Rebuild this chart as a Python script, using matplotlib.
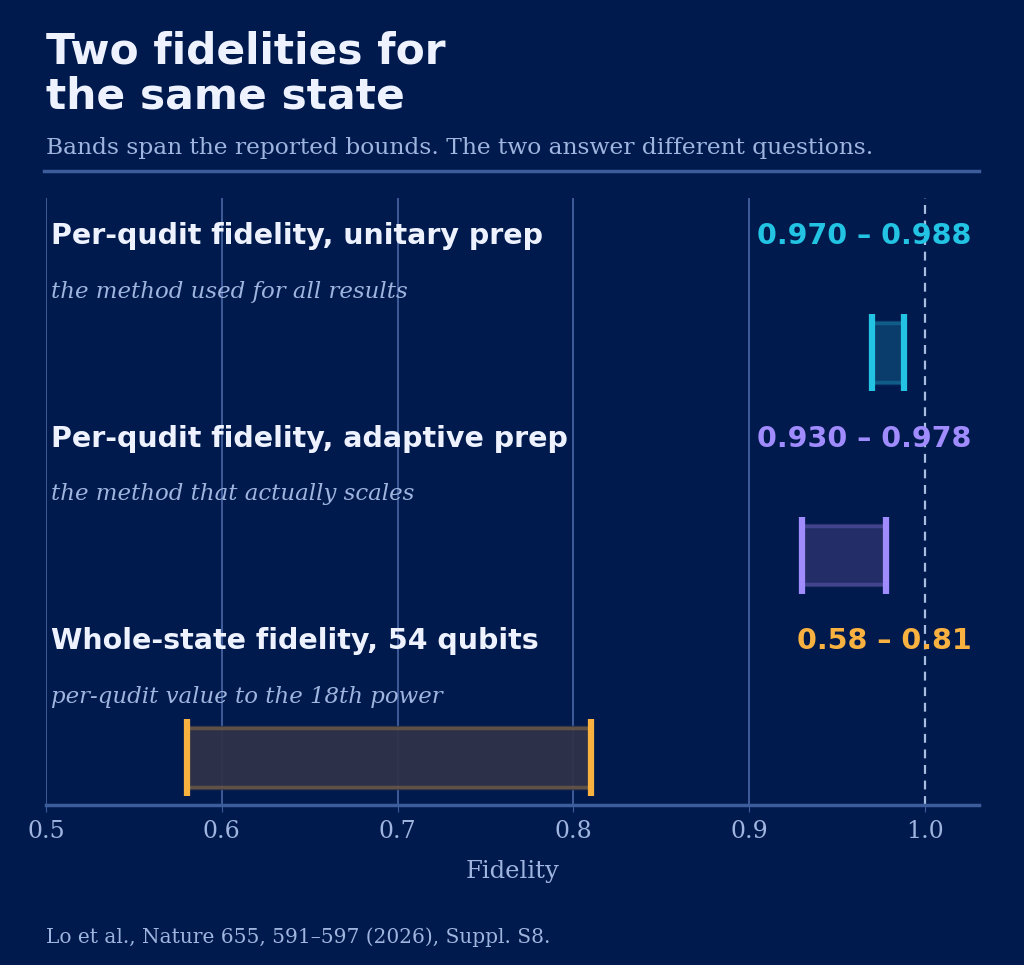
import matplotlib
matplotlib.use("Agg")
from matplotlib import pyplot as plt

titles = ["Per-qudit fidelity, unitary prep", "Per-qudit fidelity, adaptive prep", "Whole-state fidelity, 54 qubits"]
notes = ["the method used for all results", "the method that actually scales", "per-qudit value to the 18th power"]
lows = [0.970, 0.930, 0.58]
highs = [0.988, 0.978, 0.81]
range_labels = ["0.970 \u2013 0.988", "0.930 \u2013 0.978", "0.58 \u2013 0.81"]
colors = ["#22c3e3", "#a08cff", "#f9b13f"]
fills = ["#0b3f6e", "#262f6a", "#2f3349"]
ticks = [0.5, 0.6, 0.7, 0.8, 0.9, 1.0]

bg = "#001a4d"
fig = plt.figure(figsize=(10.24, 9.65), dpi=100, facecolor=bg)
ax = fig.add_axes([46 / 1024, 1 - 805 / 965, (979 - 46) / 1024, 607 / 965])
ax.set_facecolor(bg)
ax.set_xlim(0.5, 0.5 + 933 / 1758)
ax.set_ylim(3, 0)

for t in ticks:
    if t == 1.0:
        ax.axvline(t, color="#a9bde0", lw=1.6, ls=(0, (4, 3)), zorder=1)
    else:
        ax.axvline(t, color="#4a68a8", lw=1.2, zorder=1)

for i in range(3):
    yc = i + 0.765
    h = 0.19
    hf = 0.155
    ax.fill_between([lows[i], highs[i]], yc - hf, yc + hf, color=fills[i], alpha=0.95, zorder=2)
    ax.plot([lows[i], highs[i]], [yc - hf + 0.01] * 2, color=colors[i], alpha=0.25, lw=2.5, zorder=3)
    ax.plot([lows[i], highs[i]], [yc + hf - 0.01] * 2, color=colors[i], alpha=0.25, lw=2.5, zorder=3)
    for x in (lows[i], highs[i]):
        ax.plot([x, x], [yc - h, yc + h], color=colors[i], lw=4.5, zorder=4, solid_capstyle="butt")
    ax.text(0.503, i + 0.19, titles[i], color="#eef2ff", fontsize=20.5, fontweight="bold", va="center", ha="left")
    ax.text(0.503, i + 0.465, notes[i], color="#9fb4de", fontsize=16.5, style="italic", family="DejaVu Serif", va="center", ha="left")
    ax.text(1.0265, i + 0.19, range_labels[i], color=colors[i], fontsize=20.5, fontweight="bold", va="center", ha="right")

for s in ["top", "right", "left"]:
    ax.spines[s].set_visible(False)
ax.spines["bottom"].set_color("#3d5c9c")
ax.spines["bottom"].set_linewidth(2.5)
ax.set_yticks([])
ax.set_xticks(ticks)
ax.set_xticklabels([f"{t:.1f}" for t in ticks], family="DejaVu Serif", fontsize=17, color="#9fb4de")
ax.tick_params(axis="x", length=5, color="#3d5c9c", pad=6)
ax.set_xlabel("Fidelity", family="DejaVu Serif", fontsize=17.5, color="#9fb4de", labelpad=12)

fig.text(46 / 1024, 1 - 30 / 965, "Two fidelities for\nthe same state", color="#eef2ff", fontsize=30.5,
         fontweight="bold", va="top", ha="left", linespacing=1.1)
fig.text(46 / 1024, 1 - 148 / 965, "Bands span the reported bounds. The two answer different questions.",
         color="#9fb4de", fontsize=16.8, family="DejaVu Serif", va="center", ha="left")
fig.add_artist(plt.Line2D([44 / 1024, 979 / 1024], [1 - 171 / 965] * 2, color="#3d5c9c", lw=2.5))
fig.text(46 / 1024, 1 - 937 / 965, "Lo et al., Nature 655, 591\u2013597 (2026), Suppl. S8.",
         color="#9fb4de", fontsize=14.5, family="DejaVu Serif", va="center", ha="left")

plt.savefig("out.png", dpi=100, facecolor=bg)
